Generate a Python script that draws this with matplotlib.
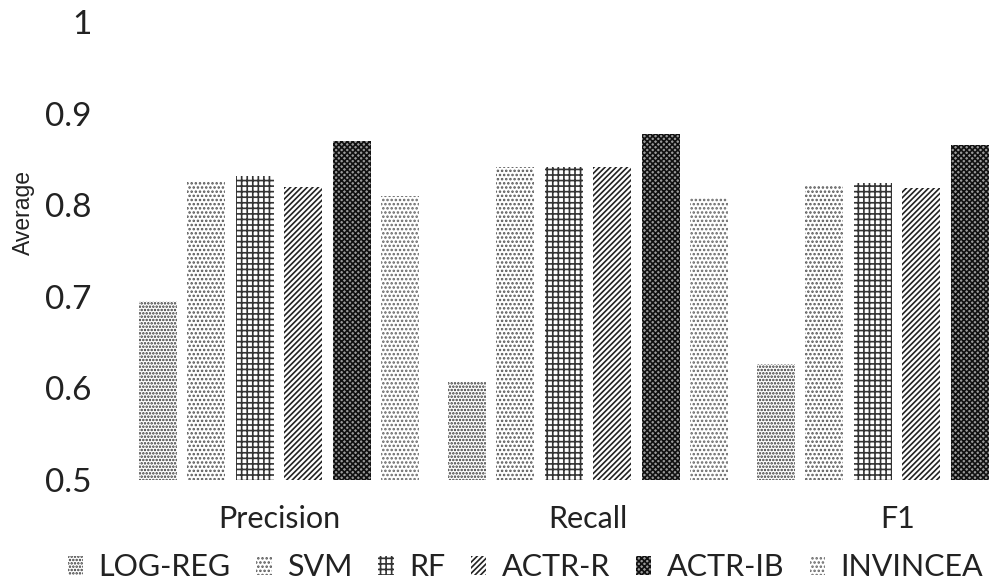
import numpy as np
import matplotlib
matplotlib.use("Agg")
from matplotlib import pyplot as plt

plt.rcParams['font.family'] = ['Lato', 'DejaVu Sans']
plt.rcParams['hatch.linewidth'] = 1.2

metrics = ['Precision', 'Recall', 'F1']
models = ['LOG-REG', 'SVM', 'RF', 'ACTR-R', 'ACTR-IB', 'INVINCEA']

# average score per model, in metric order (Precision, Recall, F1)
log_reg = [0.695, 0.607, 0.627]
svm = [0.825, 0.842, 0.822]
rf = [0.832, 0.842, 0.824]
actr_r = [0.820, 0.842, 0.819]
actr_ib = [0.870, 0.878, 0.866]
invincea = [0.810, 0.808, np.nan]

yticks = [0.5, 0.6, 0.7, 0.8, 0.9, 1.0]
ytick_labels = ['0.5', '0.6', '0.7', '0.8', '0.9', '1']

series = [log_reg, svm, rf, actr_r, actr_ib, invincea]
fills = ['white', 'white', 'white', 'white', '#9a9a9a', 'white']
hatch_colors = ['#333333', '#555555', '#333333', '#222222', '#111111', '#666666']
hatches = ['.....', '....', '+++', '//////', 'xxxxxx', '....']

fig = plt.figure(figsize=(9.97, 5.86), dpi=100)
# axes run past the right edge of the figure, so the last group is clipped
ax = fig.add_axes([0.1249, 0.181, 0.930, 0.781])

x = np.arange(len(metrics))
stride = 0.157
width = 0.123
handles = []
for i, (name, vals) in enumerate(zip(models, series)):
    b = ax.bar(x + (i - 2.5) * stride, np.array(vals) - 0.5, width, bottom=0.5,
               color=fills[i], edgecolor=hatch_colors[i], linewidth=0,
               hatch=hatches[i], label=name)
    handles.append(b)

ax.set_xlim(-0.5, 2.5)
ax.set_ylim(0.5, 1.0)
ax.set_yticks(yticks)
ax.set_yticklabels(ytick_labels)
ax.set_xticks(x)
ax.set_xticklabels(metrics)
ax.tick_params(axis='both', length=0, labelsize=22, colors='#222222')
ax.tick_params(axis='y', labelsize=24, pad=24)
ax.tick_params(axis='x', pad=18)
for s in ax.spines.values():
    s.set_visible(False)

fig.text(23 / 997, 1 - 212 / 586, 'Average', rotation=90, ha='center', va='center',
         fontsize=16.5, color='#222222',
         family=['Liberation Sans Narrow', 'Liberation Sans', 'DejaVu Sans'])

fig.legend(handles=handles, labels=models, loc='center left',
           bbox_to_anchor=(0.068, 0.032), ncol=6, frameon=False,
           fontsize=22, handlelength=0.5, handleheight=0.55,
           handletextpad=0.5, columnspacing=0.85, borderpad=0, borderaxespad=0,
           labelcolor='#222222')

fig.savefig('out.png', dpi=100)
